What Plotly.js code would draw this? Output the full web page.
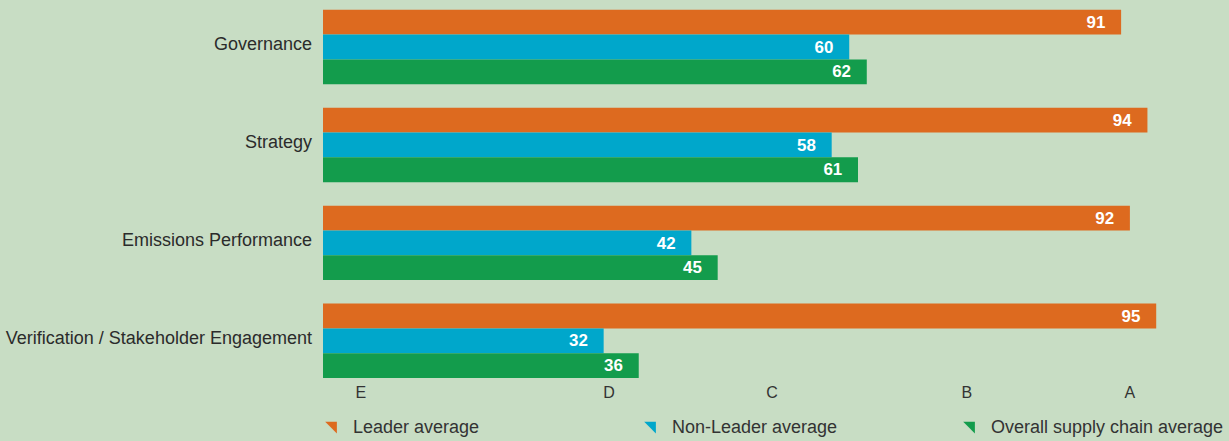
<!DOCTYPE html>
<html>
<head>
<meta charset="utf-8">
<script src="https://cdn.plot.ly/plotly-3.0.1.min.js"></script>
<style>
  html, body { margin: 0; padding: 0; background: #c8ddc4; }
  #chart { width: 1229px; height: 441px; }
</style>
</head>
<body>
<div id="chart"></div>
<script>
const categories = [
	'Governance',
	'Strategy',
	'Emissions Performance',
	'Verification / Stakeholder Engagement',
];

const leaderAvg = [91, 94, 92, 95];
const nonLeaderAvg = [60, 58, 42, 32];
const overallAvg = [62, 61, 45, 36];

// band letters and where they sit on the score axis
const bandPos = [4.3, 32.6, 51.2, 73.4, 92];
const bandText = ['E', 'D', 'C', 'B', 'A'];

const colors = {
	leader: '#dd6a1f',
	nonLeader: '#00a7cb',
	overall: '#139c4c',
};

function barTrace(name, values, color) {
	return {
		type: 'bar',
		orientation: 'h',
		name: name,
		y: categories,
		x: values,
		// trailing spaces keep the label off the bar end like the original
		text: values.map(v => v + '\u00a0\u00a0\u2009'),
		textposition: 'inside',
		insidetextanchor: 'end',
		textfont: {
			color: '#ffffff',
			size: 18,
			family: 'Liberation Sans, Arial, sans-serif',
			weight: 'bold',
		},
		marker: { color: color },
		showlegend: false,
		hoverinfo: 'x+y',
	};
}

// legend-only markers (the small corner triangles), one legend each
function legendTrace(name, color, legendId) {
	return {
		type: 'scatter',
		mode: 'markers',
		name: name,
		x: [null],
		y: [null],
		legend: legendId,
		marker: { symbol: 'triangle-ne', size: 13, color: color },
		hoverinfo: 'skip',
	};
}

var data = [
	barTrace('Leader average', leaderAvg, colors.leader),
	barTrace('Non-Leader average', nonLeaderAvg, colors.nonLeader),
	barTrace('Overall supply chain average', overallAvg, colors.overall),
	legendTrace('Leader average', colors.leader, 'legend'),
	legendTrace('Non-Leader average', colors.nonLeader, 'legend2'),
	legendTrace('Overall supply chain average', colors.overall, 'legend3'),
];

function legendAt(xPx) {
	return {
		xref: 'container',
		yref: 'container',
		x: xPx / 1229,
		xanchor: 'left',
		y: 15 / 441,
		yanchor: 'middle',
		bgcolor: 'rgba(0,0,0,0)',
		font: { size: 18, color: '#333333' },
	};
}

var layout = {
	width: 1229,
	height: 441,
	paper_bgcolor: '#c8ddc4',
	plot_bgcolor: '#c8ddc4',
	margin: { l: 323, r: 0, t: 0, b: 63, autoexpand: false },
	barmode: 'group',
	bargap: 0.24,
	bargroupgap: 0,
	font: {
		family: 'Liberation Sans, Arial, sans-serif',
		size: 16,
		color: '#333333',
	},
	xaxis: {
		range: [0, 103.3],
		showgrid: false,
		zeroline: false,
		showline: false,
		ticks: '',
		tickmode: 'array',
		tickvals: bandPos,
		ticktext: bandText,
		ticklabelstandoff: 3,
		tickfont: { size: 16, color: '#333333' },
		automargin: false,
		fixedrange: true,
	},
	yaxis: {
		type: 'category',
		range: [3.38, -0.48],
		showgrid: false,
		zeroline: false,
		showline: false,
		ticks: '',
		ticklabelstandoff: 10,
		ticklabelshift: 3,
		tickfont: { size: 18, color: '#2b2b2b' },
		automargin: false,
		fixedrange: true,
	},
	legend: legendAt(313),
	legend2: legendAt(632),
	legend3: legendAt(951),
	showlegend: true,
};

var config = { displayModeBar: false, staticPlot: true };

Plotly.newPlot('chart', data, layout, config);
</script>
</body>
</html>
